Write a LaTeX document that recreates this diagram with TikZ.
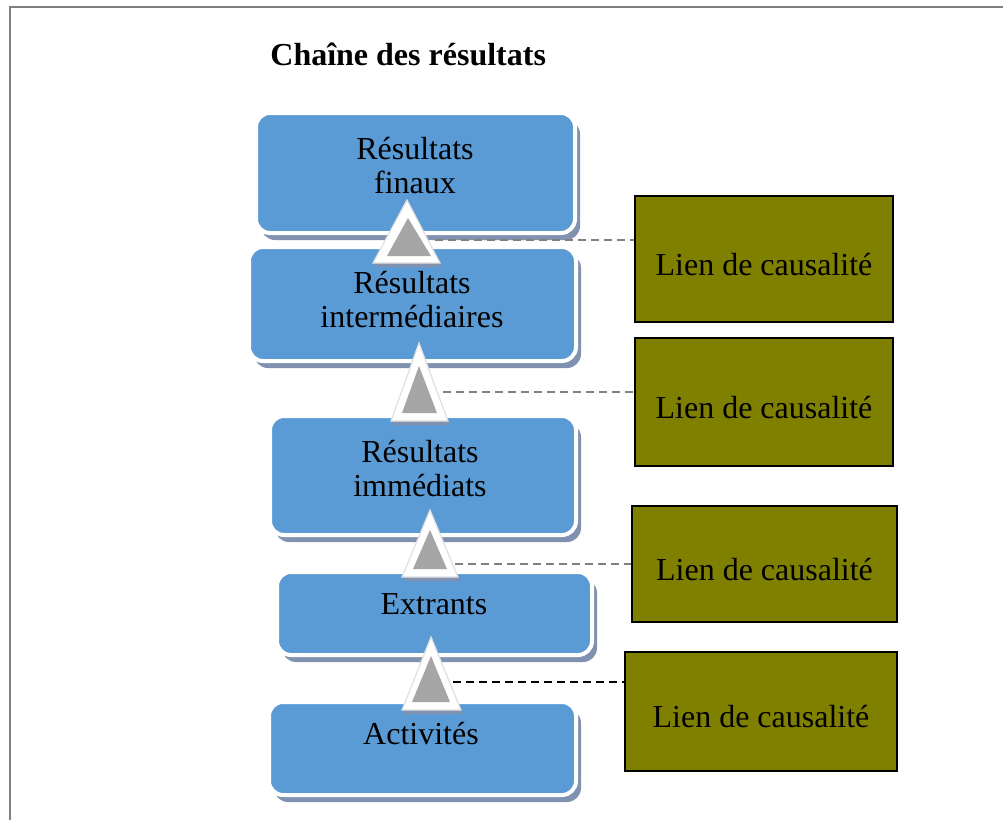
\documentclass[tikz,border=0pt]{standalone}
\usepackage{fontspec}
\setmainfont{Liberation Serif}
\usetikzlibrary{shadows}

\definecolor{boxblue}{RGB}{91,155,213}
\definecolor{shadeblue}{RGB}{128,146,175}
\definecolor{linkolive}{RGB}{128,128,0}
\definecolor{tringray}{RGB}{166,166,166}
\definecolor{framegray}{RGB}{128,128,128}

\tikzset{
  chainbox/.style={fill=boxblue, draw=white, line width=2pt, rounded corners=7pt,
    drop shadow={shadow xshift=2.5pt, shadow yshift=-3.5pt, fill=shadeblue, opacity=1}},
  chaintext/.style={align=center, font=\fontsize{16}{17}\selectfont},
  linkbox/.style={draw=black, line width=1pt, fill=linkolive, inner sep=0pt,
    font=\fontsize{16}{17}\selectfont, text height=16.5pt},
  triout/.style={fill=white, draw=black!12, line width=0.6pt,
    drop shadow={shadow xshift=0.8pt, shadow yshift=-2pt, fill=shadeblue, opacity=1}},
  triin/.style={fill=tringray},
  causal/.style={dash pattern=on 4pt off 2.5pt, line width=1pt, draw=framegray}
}

\begin{document}
\begin{tikzpicture}[x=0.5pt, y=-0.5pt]
    \useasboundingbox (0,0) rectangle (1003,820);
    \draw [framegray, line width=1pt] (10,820) -- (10,7) -- (1003,7);
    \node[font=\fontsize{16}{17}\selectfont\bfseries, anchor=base west, inner sep=0pt] (titre) at (270,65) %
         {Chaîne des résultats};
    %chain
    \draw [chainbox] (256,113) rectangle (575,233);
    \node[chaintext] (finaux) at (415,166) {Résultats\\finaux};
    \draw [chainbox] (249,247) rectangle (576,361);
    \node[chaintext] (intermed) at (412,300) {Résultats\\intermédiaires};
    \draw [chainbox] (270,416) rectangle (576,535);
    \node[chaintext] (immed) at (420,469) {Résultats\\immédiats};
    \draw [chainbox] (277,572) rectangle (592,655);
    \node[chaintext] (extrants) at (434,604) {Extrants};
    \draw [chainbox] (269,702) rectangle (576,795);
    \node[chaintext] (activites) at (421,734) {Activités};
    %triangles
    \filldraw [triout] (407,200) -- (373,263) -- (440,263) -- cycle;
    \fill [triin] (408,218) -- (387,256) -- (431,256) -- cycle;
    \filldraw [triout] (419,343) -- (391,421) -- (448,421) -- cycle;
    \fill [triin] (419,366) -- (402,413) -- (437,413) -- cycle;
    \filldraw [triout] (430,510) -- (402,577) -- (458,577) -- cycle;
    \fill [triin] (430,530) -- (413,569) -- (447,569) -- cycle;
    \filldraw [triout] (431,637) -- (402,710) -- (461,710) -- cycle;
    \fill [triin] (431,656) -- (412,702) -- (450,702) -- cycle;
    %links
    \node[linkbox, minimum width=129pt, minimum height=63pt] (lien1) at (764,259) %
         {Lien de causalité};
    \node[linkbox, minimum width=129pt, minimum height=64pt] (lien2) at (764,402) %
         {Lien de causalité};
    \node[linkbox, minimum width=132.5pt, minimum height=58pt] (lien3) at (764.5,564) %
         {Lien de causalité};
    \node[linkbox, minimum width=136pt, minimum height=59.5pt] (lien4) at (761,711.5) %
         {Lien de causalité};
    \coordinate (c1) at (435,240);
    \coordinate (c2) at (443,392);
    \coordinate (c3) at (455,564);
    \coordinate (c4) at (453,682);
    \draw [causal] (c1) -- (c1 -| lien1.west);
    \draw [causal] (c2) -- (c2 -| lien2.west);
    \draw [causal] (c3) -- (c3 -| lien3.west);
    \draw [causal, draw=black] (c4) -- (c4 -| lien4.west);
\end{tikzpicture}
\end{document}
